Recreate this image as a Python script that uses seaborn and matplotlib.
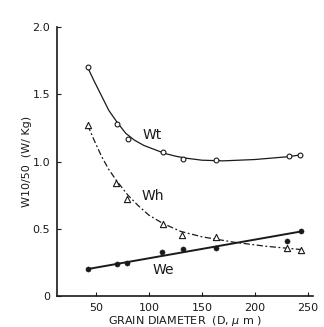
import matplotlib
matplotlib.use("Agg")
import matplotlib.pyplot as plt
import seaborn as sns

# measured points
wt_x = [42, 69.5, 80, 113, 132, 163, 232, 243]
wt_y = [1.70, 1.28, 1.17, 1.07, 1.02, 1.01, 1.04, 1.05]
wh_x = [42, 69, 79, 113, 131, 163, 230, 244]
wh_y = [1.27, 0.84, 0.72, 0.535, 0.456, 0.44, 0.357, 0.342]
we_x = [42.7, 69.5, 79, 112, 132, 163, 230, 244]
we_y = [0.20, 0.236, 0.245, 0.33, 0.35, 0.36, 0.41, 0.48]

# hand-drawn curves
wt_cx = [42, 48, 55, 62, 70, 78, 86, 95, 105, 115, 125, 135, 150, 170, 200, 230, 244]
wt_cy = [1.70, 1.60, 1.49, 1.38, 1.29, 1.21, 1.16, 1.12, 1.09, 1.06, 1.04, 1.025, 1.01, 1.005, 1.015, 1.035, 1.05]
wh_cx = [42, 48, 55, 62, 70, 80, 90, 100, 113, 130, 150, 180, 210, 244]
wh_cy = [1.27, 1.16, 1.04, 0.94, 0.85, 0.75, 0.67, 0.60, 0.54, 0.48, 0.44, 0.40, 0.37, 0.345]
we_cx = [42, 244]
we_cy = [0.20, 0.48]

sns.set_style("ticks")
plt.rcParams['font.family'] = ['DejaVu Sans']
ink = '#1a1a1a'

fig = plt.figure(figsize=(3.24, 3.27), dpi=100)
ax = fig.add_axes([0.176, 0.095, 0.79, 0.822])

sns.lineplot(x=wt_cx, y=wt_cy, ax=ax, color=ink, lw=0.9, sort=False)
sns.lineplot(x=wh_cx, y=wh_cy, ax=ax, color=ink, lw=0.9, linestyle=(0, (5, 2, 1.5, 2)), sort=False)
sns.lineplot(x=we_cx, y=we_cy, ax=ax, color=ink, lw=1.4, sort=False)

sns.scatterplot(x=wt_x, y=wt_y, ax=ax, marker='o', s=12, facecolor='white', edgecolor=ink, linewidth=0.8, zorder=3)
sns.scatterplot(x=wh_x, y=wh_y, ax=ax, marker='^', s=20, facecolor='white', edgecolor=ink, linewidth=0.8, zorder=3)
sns.scatterplot(x=we_x, y=we_y, ax=ax, marker='o', s=14, color=ink, edgecolor=ink, zorder=3)

ax.text(103, 1.20, 'Wt', fontsize=10, color=ink, ha='center', va='center')
ax.text(104, 0.74, 'Wh', fontsize=10, color=ink, ha='center', va='center')
ax.text(113, 0.19, 'We', fontsize=10, color=ink, ha='center', va='center')

ax.set_xlim(13, 255)
ax.set_ylim(0, 2.0)
ax.set_xticks([50, 100, 150, 200, 250])
ax.set_yticks([0, 0.5, 1.0, 1.5, 2.0])
ax.set_yticklabels(['0', '0.5', '1.0', '1.5', '2.0'])
ax.tick_params(direction='in', length=3, width=0.8, labelsize=8, colors=ink, pad=5)
for s in ['left', 'bottom']:
    ax.spines[s].set_linewidth(1.2)
    ax.spines[s].set_color(ink)
sns.despine(ax=ax)

ax.set_xlabel('GRAIN DIAMETER  (D, $\\mu$ m )', fontsize=8, color=ink, labelpad=1)
ax.set_ylabel('W10/50  (W/ Kg)', fontsize=8, color=ink, labelpad=0)

fig.savefig('out.png', dpi=100)
